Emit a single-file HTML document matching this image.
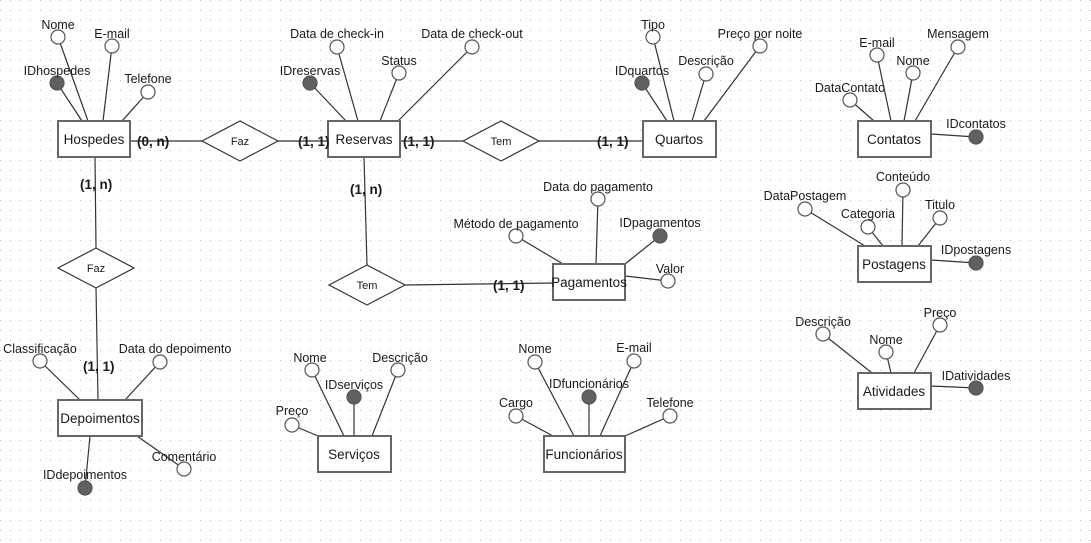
<!DOCTYPE html>
<html><head><meta charset="utf-8"><style>
html,body{margin:0;padding:0;background:#fff;}
svg{display:block;}
text{font-family:"Liberation Sans",sans-serif;font-size:12.5px;fill:#1a1a1a;}
.e{font-size:13.5px;text-anchor:middle;}
.c{font-weight:bold;font-size:13.5px;}
line,polyline{stroke:#333;stroke-width:1.2;}
.box{fill:#fff;stroke:#666;stroke-width:2;}
.o{fill:#fff;stroke:#555;stroke-width:1.2;}
.f{fill:#606060;stroke:#555;stroke-width:1.2;}
.d{fill:#fff;stroke:#333;stroke-width:1.2;}
</style></head><body>
<svg width="1091" height="543" xmlns="http://www.w3.org/2000/svg">
<defs><pattern id="g" width="10" height="10" patternUnits="userSpaceOnUse"><rect x="0" y="0" width="1" height="1" fill="#b8b8b8"/></pattern></defs>
<rect width="1091" height="543" fill="url(#g)"/>

<line x1="130" y1="141" x2="202" y2="141"/><line x1="278" y1="141" x2="328" y2="141"/>
<line x1="400" y1="141" x2="463" y2="141"/><line x1="539" y1="141" x2="643" y2="141"/>
<line x1="95" y1="157" x2="96" y2="248"/><line x1="96" y1="288" x2="98" y2="400"/>
<line x1="364" y1="157" x2="367" y2="265"/><line x1="405" y1="285" x2="553" y2="283"/>

<g>
<line x1="58" y1="37" x2="88" y2="121"/><line x1="112" y1="46" x2="103" y2="121"/><line x1="57" y1="83" x2="82" y2="121"/><line x1="148" y1="92" x2="122" y2="121"/>
<line x1="337" y1="47" x2="358" y2="121"/><line x1="310" y1="83" x2="346" y2="121"/><line x1="399" y1="73" x2="380" y2="121"/><line x1="472" y1="47" x2="398" y2="121"/>
<line x1="653" y1="37" x2="674" y2="121"/><line x1="642" y1="83" x2="667" y2="121"/><line x1="706" y1="74" x2="692" y2="121"/><line x1="760" y1="46" x2="704" y2="121"/>
<line x1="850" y1="100" x2="874" y2="121"/><line x1="877" y1="55" x2="891" y2="121"/><line x1="913" y1="73" x2="904" y2="121"/><line x1="958" y1="47" x2="915" y2="121"/><line x1="931" y1="134" x2="976" y2="137"/>
<line x1="516" y1="236" x2="563" y2="264"/><line x1="598" y1="199" x2="596" y2="264"/><line x1="660" y1="236" x2="625" y2="264"/><line x1="625" y1="276" x2="668" y2="281"/>
<line x1="805" y1="209" x2="865" y2="246"/><line x1="868" y1="227" x2="883" y2="246"/><line x1="903" y1="190" x2="902" y2="246"/><line x1="940" y1="218" x2="918" y2="246"/><line x1="931" y1="260" x2="976" y2="263"/>
<line x1="823" y1="334" x2="872" y2="373"/><line x1="886" y1="352" x2="891" y2="373"/><line x1="940" y1="325" x2="914" y2="373"/><line x1="931" y1="386" x2="976" y2="388"/>
<line x1="40" y1="361" x2="80" y2="400"/><line x1="160" y1="362" x2="125" y2="400"/><line x1="184" y1="469" x2="137" y2="436"/><line x1="90" y1="436" x2="85" y2="488"/>
<line x1="312" y1="370" x2="344" y2="436"/><line x1="354" y1="397" x2="354" y2="436"/><line x1="398" y1="370" x2="372" y2="436"/><line x1="292" y1="425" x2="318" y2="436"/>
<line x1="535" y1="362" x2="574" y2="436"/><line x1="589" y1="397" x2="589" y2="436"/><line x1="634" y1="361" x2="600" y2="436"/><line x1="516" y1="416" x2="553" y2="436"/><line x1="670" y1="416" x2="625" y2="436"/>
</g>

<polygon class="d" points="202,141 240,121 278,141 240,161"/><text x="240" y="145" text-anchor="middle" style="font-size:11px">Faz</text>
<polygon class="d" points="463,141 501,121 539,141 501,161"/><text x="501" y="145" text-anchor="middle" style="font-size:11px">Tem</text>
<polygon class="d" points="58,268 96,248 134,268 96,288"/><text x="96" y="272" text-anchor="middle" style="font-size:11px">Faz</text>
<polygon class="d" points="329,285 367,265 405,285 367,305"/><text x="367" y="289" text-anchor="middle" style="font-size:11px">Tem</text>

<rect class="box" x="58" y="121" width="72" height="36"/><text class="e" x="94" y="144">Hospedes</text>
<rect class="box" x="328" y="121" width="72" height="36"/><text class="e" x="364" y="144">Reservas</text>
<rect class="box" x="643" y="121" width="73" height="36"/><text class="e" x="679" y="144">Quartos</text>
<rect class="box" x="858" y="121" width="73" height="36"/><text class="e" x="894" y="144">Contatos</text>
<rect class="box" x="553" y="264" width="72" height="36"/><text class="e" x="589" y="287">Pagamentos</text>
<rect class="box" x="858" y="246" width="73" height="36"/><text class="e" x="894" y="269">Postagens</text>
<rect class="box" x="858" y="373" width="73" height="36"/><text class="e" x="894" y="396">Atividades</text>
<rect class="box" x="58" y="400" width="84" height="36"/><text class="e" x="100" y="423">Depoimentos</text>
<rect class="box" x="318" y="436" width="73" height="36"/><text class="e" x="354" y="459">Serviços</text>
<rect class="box" x="544" y="436" width="81" height="36"/><text class="e" x="584" y="459">Funcionários</text>

<text class="c" x="137" y="146">(0, n)</text><text class="c" x="298" y="146">(1, 1)</text>
<text class="c" x="403" y="146">(1, 1)</text><text class="c" x="597" y="146">(1, 1)</text>
<text class="c" x="80" y="189">(1, n)</text><text class="c" x="350" y="194">(1, n)</text>
<text class="c" x="493" y="290">(1, 1)</text><text class="c" x="83" y="371">(1, 1)</text>

<g>
<circle class="o" cx="58" cy="37" r="7"/><circle class="o" cx="112" cy="46" r="7"/><circle class="f" cx="57" cy="83" r="7"/><circle class="o" cx="148" cy="92" r="7"/>
<circle class="o" cx="337" cy="47" r="7"/><circle class="f" cx="310" cy="83" r="7"/><circle class="o" cx="399" cy="73" r="7"/><circle class="o" cx="472" cy="47" r="7"/>
<circle class="o" cx="653" cy="37" r="7"/><circle class="f" cx="642" cy="83" r="7"/><circle class="o" cx="706" cy="74" r="7"/><circle class="o" cx="760" cy="46" r="7"/>
<circle class="o" cx="850" cy="100" r="7"/><circle class="o" cx="877" cy="55" r="7"/><circle class="o" cx="913" cy="73" r="7"/><circle class="o" cx="958" cy="47" r="7"/><circle class="f" cx="976" cy="137" r="7"/>
<circle class="o" cx="516" cy="236" r="7"/><circle class="o" cx="598" cy="199" r="7"/><circle class="f" cx="660" cy="236" r="7"/><circle class="o" cx="668" cy="281" r="7"/>
<circle class="o" cx="805" cy="209" r="7"/><circle class="o" cx="868" cy="227" r="7"/><circle class="o" cx="903" cy="190" r="7"/><circle class="o" cx="940" cy="218" r="7"/><circle class="f" cx="976" cy="263" r="7"/>
<circle class="o" cx="823" cy="334" r="7"/><circle class="o" cx="886" cy="352" r="7"/><circle class="o" cx="940" cy="325" r="7"/><circle class="f" cx="976" cy="388" r="7"/>
<circle class="o" cx="40" cy="361" r="7"/><circle class="o" cx="160" cy="362" r="7"/><circle class="o" cx="184" cy="469" r="7"/><circle class="f" cx="85" cy="488" r="7"/>
<circle class="o" cx="312" cy="370" r="7"/><circle class="f" cx="354" cy="397" r="7"/><circle class="o" cx="398" cy="370" r="7"/><circle class="o" cx="292" cy="425" r="7"/>
<circle class="o" cx="535" cy="362" r="7"/><circle class="f" cx="589" cy="397" r="7"/><circle class="o" cx="634" cy="361" r="7"/><circle class="o" cx="516" cy="416" r="7"/><circle class="o" cx="670" cy="416" r="7"/>
</g>

<g text-anchor="middle">
<text x="58" y="29">Nome</text><text x="112" y="38">E-mail</text><text x="57" y="75">IDhospedes</text><text x="148" y="83">Telefone</text>
<text x="337" y="38">Data de check-in</text><text x="310" y="75">IDreservas</text><text x="399" y="65">Status</text><text x="472" y="38">Data de check-out</text>
<text x="653" y="29">Tipo</text><text x="642" y="75">IDquartos</text><text x="706" y="65">Descrição</text><text x="760" y="38">Preço por noite</text>
<text x="850" y="92">DataContato</text><text x="877" y="47">E-mail</text><text x="913" y="65">Nome</text><text x="958" y="38">Mensagem</text><text x="976" y="128">IDcontatos</text>
<text x="516" y="228">Método de pagamento</text><text x="598" y="191">Data do pagamento</text><text x="660" y="227">IDpagamentos</text><text x="670" y="273">Valor</text>
<text x="805" y="200">DataPostagem</text><text x="868" y="218">Categoria</text><text x="903" y="181">Conteúdo</text><text x="940" y="209">Titulo</text><text x="976" y="254">IDpostagens</text>
<text x="823" y="326">Descrição</text><text x="886" y="344">Nome</text><text x="940" y="317">Preço</text><text x="976" y="380">IDatividades</text>
<text x="40" y="353">Classificação</text><text x="175" y="353">Data do depoimento</text><text x="184" y="461">Comentário</text><text x="85" y="479">IDdepoimentos</text>
<text x="310" y="362">Nome</text><text x="354" y="389">IDserviços</text><text x="400" y="362">Descrição</text><text x="292" y="415">Preço</text>
<text x="535" y="353">Nome</text><text x="589" y="388">IDfuncionários</text><text x="634" y="352">E-mail</text><text x="516" y="407">Cargo</text><text x="670" y="407">Telefone</text>
</g>
</svg>
</body></html>
